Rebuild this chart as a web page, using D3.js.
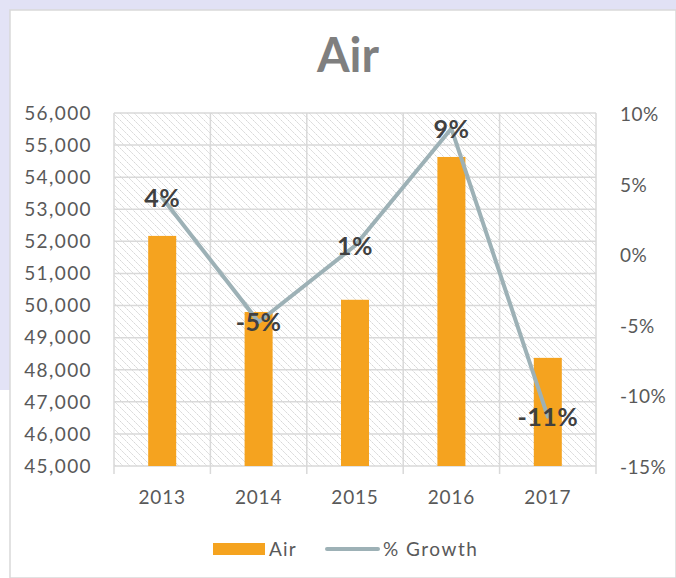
<!DOCTYPE html>
<html lang="en">
<head>
<meta charset="utf-8">
<title>Air</title>
<script src="https://d3js.org/d3.v7.min.js"></script>
<style>
  body { margin: 0; background: #fff; }
  svg { display: block; }
</style>
</head>
<body>
<div id="chart"></div>
<script>
// chart data
const years = ['2013', '2014', '2015', '2016', '2017'];
const airValues = [52170, 49800, 50180, 54630, 48370];
const growthValues = [4.0, -4.8, 0.6, 8.9, -11.5];
const growthLabels = ['4%', '-5%', '1%', '9%', '-11%'];
const leftTicks = d3.range(45000, 56001, 1000);
const rightTicks = [-15, -10, -5, 0, 5, 10];

const width = 676, height = 578;
const plot = { left: 114, right: 596, top: 113, bottom: 466 };
const font = 'Lato, "Open Sans", sans-serif';

const svg = d3.select('#chart').append('svg')
    .attr('width', width)
    .attr('height', height);

// slide background peeking round the chart box
svg.append('rect').attr('x', 0).attr('y', 0).attr('width', width).attr('height', 12).attr('fill', '#e1e1f5');
svg.append('rect').attr('x', 0).attr('y', 0).attr('width', 10).attr('height', 390).attr('fill', '#e3e3f6');
svg.append('rect').attr('x', 10).attr('y', 10).attr('width', width - 10).attr('height', height - 10)
    .attr('fill', '#fff').attr('stroke', '#d9d9d9').attr('stroke-width', 1.5);

// hatch pattern for the plot area
const defs = svg.append('defs');
const pat = defs.append('pattern')
    .attr('id', 'hatch')
    .attr('patternUnits', 'userSpaceOnUse')
    .attr('width', 7).attr('height', 7);
pat.append('rect').attr('width', 7).attr('height', 7).attr('fill', '#fff');
pat.append('path')
    .attr('d', 'M-1,-1 L8,8 M-1,6 L1,8 M6,-1 L8,1')
    .attr('stroke', '#d2d2d2')
    .attr('stroke-width', 1)
    .attr('stroke-dasharray', '2 1');

const x = d3.scaleBand().domain(years).range([plot.left, plot.right]).paddingInner(0).paddingOuter(0);
const yLeft = d3.scaleLinear().domain([45000, 56000]).range([plot.bottom, plot.top]);
const yRight = d3.scaleLinear().domain([-15, 10]).range([plot.bottom, plot.top]);

svg.append('rect')
    .attr('x', plot.left).attr('y', plot.top)
    .attr('width', plot.right - plot.left).attr('height', plot.bottom - plot.top)
    .attr('fill', 'url(#hatch)');

// grid lines
svg.selectAll('line.hgrid')
    .data(leftTicks)
    .enter().append('line')
    .attr('class', 'hgrid')
    .attr('x1', plot.left).attr('x2', plot.right)
    .attr('y1', d => yLeft(d)).attr('y2', d => yLeft(d))
    .attr('stroke', '#d9d9d9').attr('stroke-width', 1.5);

const bounds = years.map(d => x(d)).concat([plot.right]);
svg.selectAll('line.vgrid')
    .data(bounds)
    .enter().append('line')
    .attr('class', 'vgrid')
    .attr('x1', d => d).attr('x2', d => d)
    .attr('y1', plot.top).attr('y2', plot.bottom + 8)
    .attr('stroke', '#d9d9d9').attr('stroke-width', 1.5);

// bars
const barW = 28;
svg.selectAll('rect.bar')
    .data(airValues)
    .enter().append('rect')
    .attr('class', 'bar')
    .attr('x', (d, i) => x(years[i]) + x.bandwidth() / 2 - barW / 2)
    .attr('y', d => yLeft(d))
    .attr('width', barW)
    .attr('height', d => plot.bottom - yLeft(d))
    .attr('fill', '#f5a31f');

// growth line
const line = d3.line()
    .x((d, i) => x(years[i]) + x.bandwidth() / 2)
    .y(d => yRight(d));
svg.append('path')
    .datum(growthValues)
    .attr('d', line)
    .attr('fill', 'none')
    .attr('stroke', '#9db1b6')
    .attr('stroke-width', 4)
    .attr('stroke-linejoin', 'round')
    .attr('stroke-linecap', 'round');

// data labels
svg.selectAll('text.dlabel')
    .data(growthValues)
    .enter().append('text')
    .attr('class', 'dlabel')
    .attr('x', (d, i) => x(years[i]) + x.bandwidth() / 2)
    .attr('y', d => yRight(d))
    .attr('dy', '0.36em')
    .attr('text-anchor', 'middle')
    .attr('font-family', font)
    .attr('font-weight', 'bold')
    .attr('font-size', 25)
    .attr('letter-spacing', 0.5)
    .attr('fill', '#404040')
    .text((d, i) => growthLabels[i]);

// left axis labels
svg.selectAll('text.ltick')
    .data(leftTicks)
    .enter().append('text')
    .attr('class', 'ltick')
    .attr('x', 92)
    .attr('y', d => yLeft(d))
    .attr('dy', '0.36em')
    .attr('text-anchor', 'end')
    .attr('font-family', font)
    .attr('font-size', 19)
    .attr('letter-spacing', 1.4)
    .attr('fill', '#595959')
    .text(d => d3.format(',')(d));

// right axis labels
svg.selectAll('text.rtick')
    .data(rightTicks)
    .enter().append('text')
    .attr('class', 'rtick')
    .attr('x', 620)
    .attr('y', d => yRight(d))
    .attr('dy', '0.42em')
    .attr('text-anchor', 'start')
    .attr('font-family', font)
    .attr('font-size', 19)
    .attr('letter-spacing', 0.5)
    .attr('fill', '#595959')
    .text(d => d + '%');

// category labels
svg.selectAll('text.xtick')
    .data(years)
    .enter().append('text')
    .attr('class', 'xtick')
    .attr('x', d => x(d) + x.bandwidth() / 2)
    .attr('y', 504)
    .attr('text-anchor', 'middle')
    .attr('font-family', font)
    .attr('font-size', 19)
    .attr('letter-spacing', 0.8)
    .attr('fill', '#595959')
    .text(d => d);

// title
svg.append('text')
    .attr('x', 348).attr('y', 72)
    .attr('text-anchor', 'middle')
    .attr('font-family', font)
    .attr('font-weight', 'bold')
    .attr('font-size', 47)
    .attr('fill', '#7f7f7f')
    .text('Air');

// legend
const legend = svg.append('g').attr('transform', 'translate(213,549)');
legend.append('rect').attr('x', 0).attr('y', -6).attr('width', 52).attr('height', 12).attr('fill', '#f5a31f');
legend.append('text').attr('x', 56).attr('y', 0).attr('dy', '0.36em')
    .attr('font-family', font).attr('font-size', 19).attr('letter-spacing', 1.2)
    .attr('fill', '#595959').text('Air');
legend.append('line').attr('x1', 114).attr('x2', 165).attr('y1', 0).attr('y2', 0)
    .attr('stroke', '#9db1b6').attr('stroke-width', 4).attr('stroke-linecap', 'round');
legend.append('text').attr('x', 170).attr('y', 0).attr('dy', '0.36em')
    .attr('font-family', font).attr('font-size', 19).attr('letter-spacing', 1.5)
    .attr('fill', '#595959').text('% Growth');
</script>
</body>
</html>
